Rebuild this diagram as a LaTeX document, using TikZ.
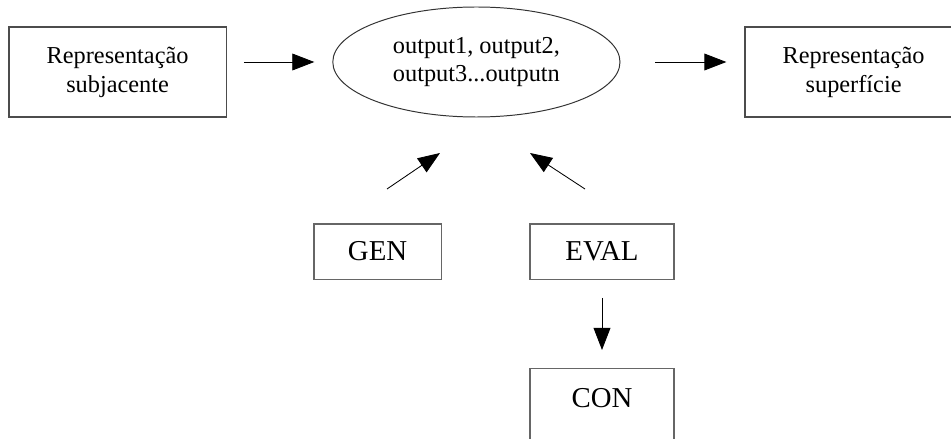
\documentclass[tikz,border=0pt]{standalone}
\usepackage{fontspec}
\setmainfont{Liberation Serif}
\usepackage{tikz}
\usetikzlibrary{arrows.meta,positioning,shapes.geometric}

\begin{document}
\begin{tikzpicture}[
    % GLOBAL CFG
    font=\fontsize{17.3}{20.5}\selectfont,
    >={Triangle[length=5.5mm,width=4.2mm]},
    % Styles
    repbox/.style={% For the two representations
        rectangle,
        draw=black!70,
        line width=.9pt,
        minimum width=5.43cm,
        minimum height=2.25cm,
        align=center,
        },
    outs/.style={% For the candidate set
        ellipse,
        draw=black!80,
        line width=.7pt,
        inner sep=0pt,
        minimum width=7.18cm,
        minimum height=2.75cm,
        align=center,
        },
    modbox/.style={% For GEN, EVAL and CON
        rectangle,
        draw=black!60,
        line width=.9pt,
        minimum height=1.38cm,
        font=\fontsize{20.5}{24}\selectfont,
        },
    ArrowA/.style={% Plain arrows
        ->,
        line width=.6pt,
        },
    ]

    \useasboundingbox (0,0) rectangle (23.775,-10.975);
    \clip (0,0) rectangle (23.775,-10.975);

    % Top row
    \node [repbox] (sub) at (2.94,-1.8) {Representação\\subjacente};
    \node [outs] (outputs) at (11.91,-1.55) {output1, output2,\\output3...outputn};
    \node [repbox] (sup) at (21.34,-1.8) {Representação\\superfície};

    \draw [ArrowA, shorten <=4.25mm, shorten >=4.5mm] (sub.east |- outputs.west) -- (outputs.west);
    \draw [ArrowA, shorten <=8.75mm, shorten >=4.5mm] (outputs.east) -- (sup.west |- outputs.east);

    % Bottom part
    \node [modbox, minimum width=3.18cm] (gen) at (9.44,-6.29) {GEN};
    \node [modbox, minimum width=3.6cm] (eval) at (15.05,-6.29) {EVAL};
    \node [modbox, minimum width=3.6cm, minimum height=0cm, inner ysep=0pt,
           text height=9.6mm, text depth=2.5cm, anchor=north] (con) at (15.05,-9.2) {CON};

    % Free arrows towards the candidates
    \coordinate (genTail) at (9.675,-4.725);
    \coordinate (genTip) at (11.0,-3.825);
    \coordinate (evalTail) at (14.625,-4.725);
    \coordinate (evalTip) at (13.25,-3.825);
    \draw [ArrowA] (genTail) -- (genTip);
    \draw [ArrowA] (evalTail) -- (evalTip);

    \draw [ArrowA, shorten <=4.5mm, shorten >=4.5mm] (eval.south) -- (con.north);
\end{tikzpicture}
\end{document}
